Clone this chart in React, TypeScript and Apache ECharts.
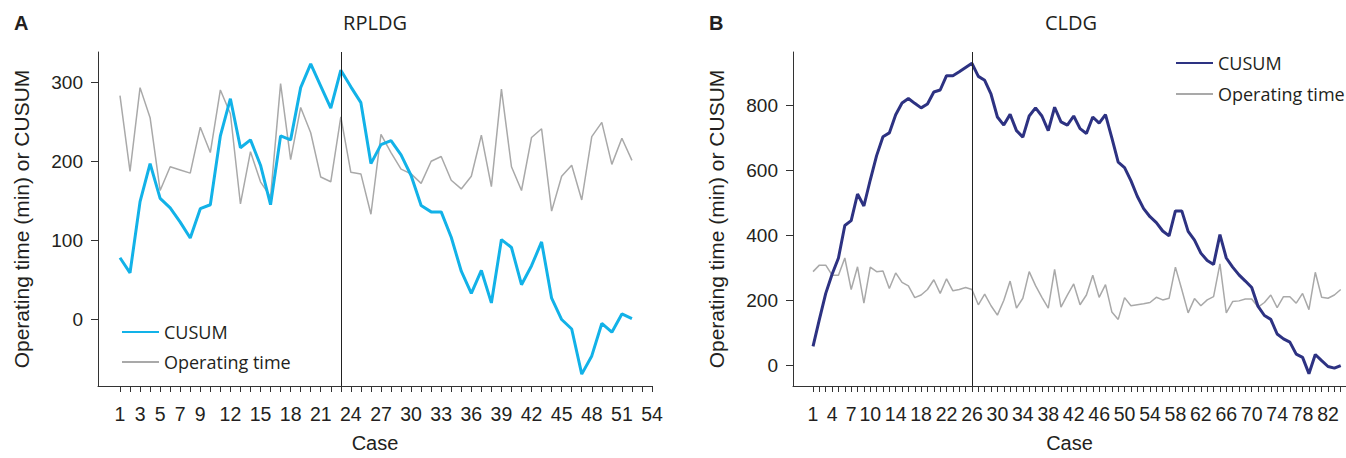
import React, { useEffect, useRef } from 'react';
import * as echarts from 'echarts';

// ---- Data ----
const rpldgCusum = [
  78, 59, 149, 197, 153, 141, 123, 103, 140, 145,
  232, 279, 217, 227, 195, 145, 232, 227, 293, 323,
  295, 267, 315, 294, 274, 197, 221, 226, 208, 182,
  144, 136, 136, 104, 61, 33, 62, 21, 101, 91,
  44, 68, 98, 27, 0, -12, -69, -46, -5, -16,
  7, 1,
];
const rpldgTime = [
  283, 187, 293, 255, 163, 193, 189, 185, 243, 211,
  290, 260, 146, 212, 174, 155, 298, 202, 268, 236,
  180, 174, 256, 186, 184, 133, 234, 211, 190, 184,
  172, 200, 206, 176, 165, 181, 233, 168, 291, 193,
  163, 230, 241, 137, 181, 195, 151, 231, 249, 196,
  229, 201,
];
const cldgCusum = [
  59, 142, 222, 281, 331, 431, 446, 528, 491, 571,
  646, 704, 716, 772, 808, 822, 807, 793, 805, 842,
  848, 892, 892, 904, 917, 930, 890, 878, 835, 765,
  740, 773, 723, 703, 768, 793, 768, 723, 795, 750,
  740, 768, 729, 714, 765, 746, 772, 701, 626, 609,
  569, 521, 483, 458, 440, 414, 399, 476, 476, 413,
  386, 346, 323, 311, 403, 331, 303, 279, 260, 240,
  182, 154, 142, 97, 82, 72, 35, 25, -25, 34,
  15, -3, -8, 0,
];
const cldgTime = [
  289, 309, 309, 278, 278, 331, 234, 304, 192, 303,
  289, 291, 237, 285, 256, 245, 209, 217, 234, 264,
  222, 267, 230, 234, 240, 234, 187, 220, 184, 155,
  200, 260, 177, 207, 289, 246, 210, 177, 296, 180,
  217, 251, 187, 217, 278, 210, 249, 165, 142, 209,
  184, 187, 190, 194, 210, 202, 207, 303, 234, 162,
  206, 184, 202, 212, 313, 162, 197, 199, 205, 205,
  180, 194, 217, 178, 212, 212, 192, 222, 172, 287,
  210, 207, 217, 234,
];

const rpldgXLabels = [1, 3, 5, 7, 9, 12, 15, 18, 21, 24, 27, 30, 33, 36, 39, 42, 45, 48, 51, 54];
const cldgXLabels = [1, 4, 7, 10, 14, 18, 22, 26, 30, 34, 38, 42, 46, 50, 54, 58, 62, 66, 70, 74, 78, 82];
const rpldgYTicks = [0, 100, 200, 300];
const cldgYTicks = [0, 200, 400, 600, 800];
const rpldgLastTick = 54;
const cldgLastTick = 84;
const rpldgSplitCase = 23;
const cldgSplitCase = 26;

const AX_FONT = '"Liberation Sans", Arial, sans-serif';
const TXT_FONT = '"Open Sans", "Noto Sans", sans-serif';
const AX_COLOR = '#333333';
const TEXT_COLOR = '#231f20';

const range = (n: number) => Array.from({ length: n }, (_, i) => i + 1);
const pairs = (vals: number[]) => vals.map((v, i) => [i + 1, v]);

function xAxisCfg(grid: number, min: number, max: number, ticks: number[], labels: number[]) {
  return {
    type: 'value',
    gridIndex: grid,
    min,
    max,
    axisLine: { show: true, onZero: false, lineStyle: { color: AX_COLOR, width: 1 } },
    axisTick: { show: true, length: 6, customValues: ticks, lineStyle: { color: AX_COLOR } },
    axisLabel: { customValues: labels, margin: 18, fontSize: 19.5, color: TEXT_COLOR, fontFamily: AX_FONT },
    splitLine: { show: false },
    name: 'Case',
    nameLocation: 'middle',
    nameGap: 47,
    nameTextStyle: { fontSize: 20, color: TEXT_COLOR, fontFamily: AX_FONT },
  };
}

function yAxisCfg(grid: number, min: number, max: number, ticks: number[]) {
  return {
    type: 'value',
    gridIndex: grid,
    min,
    max,
    axisLine: { show: true, onZero: false, lineStyle: { color: AX_COLOR, width: 1 } },
    axisTick: { show: true, length: 7, customValues: ticks, lineStyle: { color: AX_COLOR } },
    axisLabel: { customValues: ticks, margin: 15, fontSize: 19, color: TEXT_COLOR, fontFamily: AX_FONT },
    splitLine: { show: false },
    name: 'Operating time (min) or CUSUM',
    nameLocation: 'middle',
    nameGap: 66,
    nameTextStyle: { fontSize: 21, color: TEXT_COLOR, fontFamily: AX_FONT },
  };
}

export default function App() {
  const ref = useRef<HTMLDivElement>(null);
  useEffect(() => {
    if (!ref.current) return;
    const chart = echarts.init(ref.current, undefined, { renderer: 'svg' });
    const vline = (x: number) => ({
      silent: true,
      symbol: 'none',
      label: { show: false },
      lineStyle: { color: '#222222', width: 1, type: 'solid' },
      data: [{ xAxis: x }],
    });
    const legendBase = {
      orient: 'vertical',
      itemWidth: 37,
      itemHeight: 14,
      selectedMode: false,
      itemStyle: { opacity: 0 },
      textStyle: { fontSize: 18, color: TEXT_COLOR, fontFamily: TXT_FONT },
    };
    chart.setOption({
      animation: false,
      backgroundColor: '#ffffff',
      grid: [
        { left: 98, top: 52, width: 554, height: 342 },
        { left: 793, top: 52, width: 553, height: 343 },
      ],
      xAxis: [
        xAxisCfg(0, -1.19, rpldgLastTick, range(rpldgLastTick), rpldgXLabels),
        xAxisCfg(1, -2.15, 84.83, range(cldgLastTick), cldgXLabels),
      ],
      yAxis: [yAxisCfg(0, -84, 338, rpldgYTicks), yAxisCfg(1, -63, 965, cldgYTicks)],
      legend: [
        { ...legendBase, left: 116, top: 318, itemGap: 12, data: ['CUSUM', 'Operating time'] },
        {
          ...legendBase,
          left: 1170,
          top: 49,
          itemGap: 13,
          data: ['CUSUM ', 'Operating time '],
          formatter: (n: string) => n.trim(),
        },
      ],
      graphic: [
        { type: 'text', x: 14, y: 23, style: { text: 'A', font: 'bold 20px "Liberation Sans", Arial', fill: TEXT_COLOR, textVerticalAlign: 'middle' } },
        { type: 'text', x: 709, y: 23, style: { text: 'B', font: 'bold 20px "Liberation Sans", Arial', fill: TEXT_COLOR, textVerticalAlign: 'middle' } },
        { type: 'text', x: 375, y: 22, style: { text: 'RPLDG', font: '20px "Open Sans"', fill: TEXT_COLOR, textAlign: 'center', textVerticalAlign: 'middle' } },
        { type: 'text', x: 1071, y: 22, style: { text: 'CLDG', font: '20px "Open Sans"', fill: TEXT_COLOR, textAlign: 'center', textVerticalAlign: 'middle' } },
      ],
      series: [
        {
          name: 'Operating time',
          type: 'line',
          xAxisIndex: 0,
          yAxisIndex: 0,
          data: pairs(rpldgTime),
          symbol: 'none',
          showSymbol: false,
          lineStyle: { color: '#a9a9a9', width: 1.5 },
          itemStyle: { color: '#a9a9a9' },
          z: 2,
        },
        {
          name: 'CUSUM',
          type: 'line',
          xAxisIndex: 0,
          yAxisIndex: 0,
          data: pairs(rpldgCusum),
          symbol: 'none',
          showSymbol: false,
          lineStyle: { color: '#12b2e8', width: 3 },
          itemStyle: { color: '#12b2e8' },
          z: 3,
          markLine: vline(rpldgSplitCase),
        },
        {
          name: 'Operating time ',
          type: 'line',
          xAxisIndex: 1,
          yAxisIndex: 1,
          data: pairs(cldgTime),
          symbol: 'none',
          showSymbol: false,
          lineStyle: { color: '#a9a9a9', width: 1.5 },
          itemStyle: { color: '#a9a9a9' },
          z: 2,
        },
        {
          name: 'CUSUM ',
          type: 'line',
          xAxisIndex: 1,
          yAxisIndex: 1,
          data: pairs(cldgCusum),
          symbol: 'none',
          showSymbol: false,
          lineStyle: { color: '#2d3282', width: 3 },
          itemStyle: { color: '#2d3282' },
          z: 3,
          markLine: vline(cldgSplitCase),
        },
      ],
    });
    return () => chart.dispose();
  }, []);
  return (
    <div
      ref={ref}
      style={{ position: 'fixed', left: 0, top: 0, width: 1346, height: 458, background: '#fff' }}
    />
  );
}
